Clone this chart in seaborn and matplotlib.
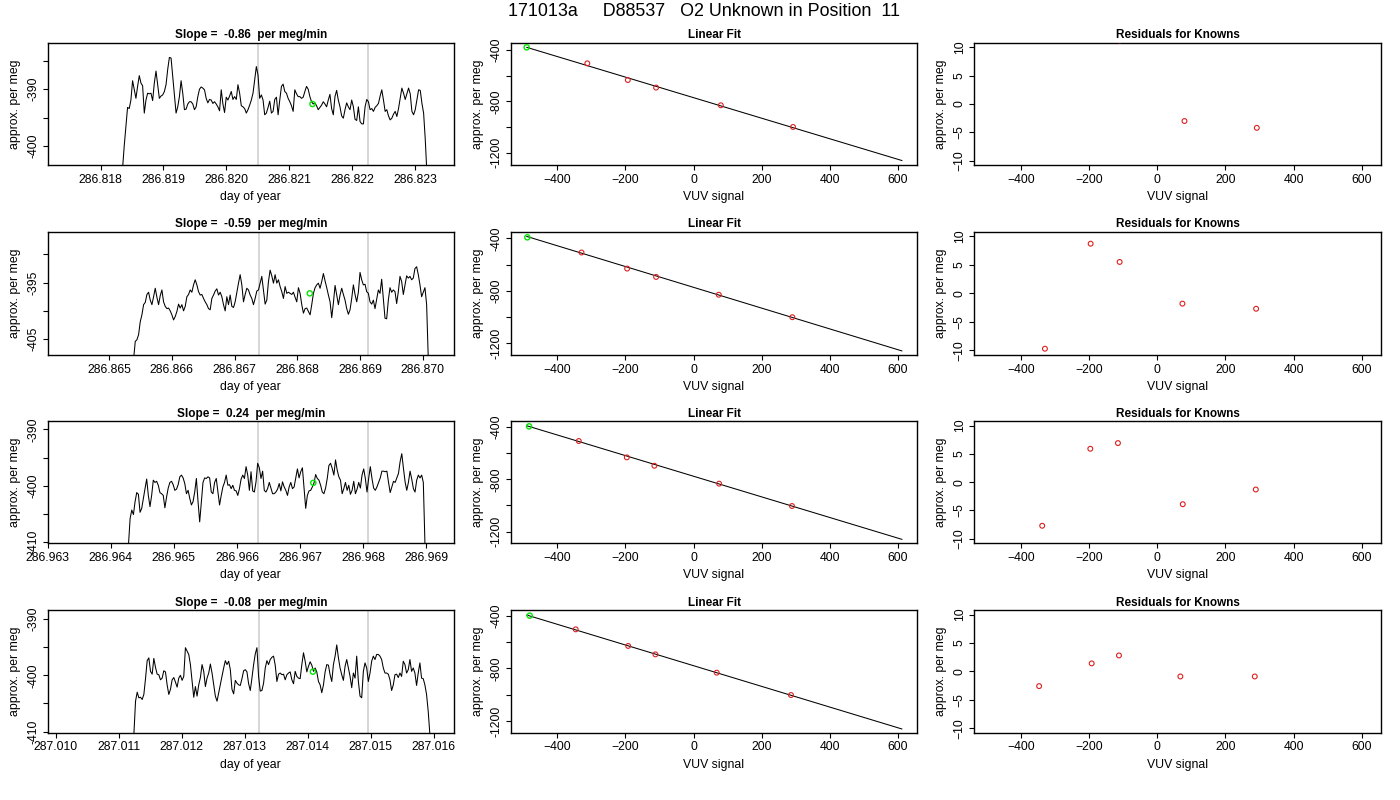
import numpy as np
import pandas as pd
import matplotlib
matplotlib.use("Agg")
import matplotlib.pyplot as plt
import seaborn as sns

# ---- data ----
run_title = "171013a     D88537   O2 Unknown in Position  11"
slopes = ["-0.86", "-0.59", "0.24", "-0.08"]

# time span (day of year) covered by each trace
trace_start = [286.81835, 286.86539, 286.96428, 287.011238]
trace_end = [286.82319, 286.87009, 286.96898, 287.015937]

trace_1 = [-404.0, -400.0, -396.5,
           -393.2, -393.4, -391.9, -388.5, -390.1, -391.6, -389.5, -387.6, -388.9, -389.4,
           -394.2, -391.9, -390.7, -390.8, -390.7, -392.0, -388.9, -386.8, -389.2, -391.6,
           -391.2, -391.0, -390.4, -389.2, -386.5, -384.4, -384.5, -387.8, -391.3, -394.2,
           -393.1, -391.3, -388.5, -390.7, -393.6, -393.5, -392.6, -392.2, -392.2, -392.6,
           -393.6, -393.1, -391.3, -390.0, -389.6, -389.8, -390.1, -391.6, -392.4, -391.8,
           -391.9, -392.5, -392.2, -392.6, -393.1, -393.8, -390.1, -392.6, -394.1, -391.4,
           -391.9, -391.2, -390.4, -391.8, -391.3, -391.8, -389.2, -390.7, -392.9, -393.1,
           -393.4, -394.2, -393.6, -392.8, -391.9, -390.7, -388.4, -386.0, -387.5, -391.6,
           -391.0, -391.9, -394.5, -394.2, -393.2, -392.1, -394.2, -393.9, -391.8, -391.4,
           -394.5, -391.9, -389.5, -389.1, -390.4, -390.7, -391.6, -392.2, -392.9, -393.9,
           -390.1, -390.8, -391.3, -391.3, -391.6, -391.4, -390.4, -389.5, -390.0, -391.3,
           -392.2, -392.6, -392.4, -392.9, -393.6, -393.2, -392.8, -392.2, -392.6, -393.1,
           -391.9, -390.9, -393.4, -394.5, -391.3, -390.2, -391.9, -393.1, -394.7, -395.1,
           -393.6, -392.4, -393.1, -393.6, -391.9, -393.1, -395.3, -395.5, -393.1, -395.7,
           -396.1, -396.1, -393.1, -391.8, -392.2, -393.6, -393.4, -393.9, -393.2, -392.9,
           -392.5, -391.2, -390.1, -391.9, -393.9, -393.6, -394.7, -395.4, -395.1, -394.4,
           -393.9, -394.8, -393.4, -391.6, -389.8, -390.7, -391.8, -390.8, -389.8, -390.8,
           -393.9, -394.5, -393.6, -391.9, -390.1, -390.2, -392.5, -394.2, -398.9, -405.0]

trace_2 = [-408.5, -405.4, -405.1, -404.2, -401.9, -400.7, -398.9, -398.5, -397.1, -396.7,
           -398.1, -398.9, -397.5, -396.0, -397.6, -398.9, -397.3, -396.3, -398.4, -399.2,
           -399.6, -399.5, -400.0, -400.7, -401.6, -401.0, -400.1, -398.8, -399.5, -398.9,
           -400.0, -399.2, -397.5, -397.1, -396.3, -396.7, -395.4, -394.5, -395.4, -396.6,
           -397.2, -397.1, -397.8, -398.4, -398.9, -399.6, -399.8, -397.8, -397.2, -396.5,
           -396.1, -397.2, -396.7, -397.5, -398.9, -400.0, -397.5, -398.9, -397.2, -399.2,
           -399.4, -398.4, -396.7, -395.1, -393.6, -395.4, -398.4, -397.1, -396.0, -396.3,
           -397.2, -397.8, -398.9, -397.8, -396.5, -396.3, -395.1, -393.9, -396.3, -398.8,
           -398.1, -394.8, -392.8, -393.8, -395.1, -393.6, -395.1, -394.5, -395.7, -396.6,
           -397.8, -395.7, -396.9, -396.7, -396.9, -397.1, -396.7, -397.6, -398.4, -395.9,
           -396.9, -398.9, -400.4, -399.6, -399.5, -400.1, -400.7, -398.9, -396.9, -395.9,
           -395.4, -395.1, -396.0, -394.8, -393.4, -394.7, -395.9, -397.2, -398.4, -401.2,
           -398.6, -395.5, -397.2, -398.9, -397.2, -396.0, -397.1, -398.1, -399.6, -400.6,
           -399.8, -397.8, -395.4, -397.1, -398.4, -396.7, -393.2, -394.5, -395.4, -395.3,
           -396.6, -396.9, -398.4, -398.8, -398.1, -399.6, -397.9, -396.3, -396.9, -394.4,
           -397.8, -401.3, -401.4, -398.1, -395.9, -396.7, -396.3, -396.6, -398.7, -396.6,
           -393.9, -394.8, -397.1, -395.4, -393.8, -394.2, -393.9, -394.5, -394.2, -392.5,
           -392.2, -393.6, -395.4, -397.5, -396.7, -395.9, -398.9, -408.5]

trace_3 = [-410.5, -405.8, -404.3, -405.1, -402.8, -401.2, -401.5, -404.7, -404.0, -402.2,
           -400.5, -398.8, -401.7, -403.7, -401.7, -399.0, -399.4, -399.2, -399.9, -401.2,
           -401.4, -401.7, -403.9, -402.0, -400.4, -399.4, -399.2, -399.8, -400.8, -400.6,
           -399.8, -398.4, -398.1, -398.6, -399.6, -401.4, -400.8, -402.2, -403.4, -402.8,
           -401.1, -398.7, -402.8, -406.4, -402.8, -399.4, -398.6, -398.7, -398.4, -398.6,
           -401.1, -401.4, -399.4, -398.7, -401.1, -403.4, -401.7, -400.2, -399.4, -398.1,
           -399.9, -399.8, -400.5, -399.9, -400.8, -400.9, -401.7, -400.5, -398.8, -398.1,
           -398.7, -396.6, -398.1, -400.8, -397.5, -400.9, -401.1, -399.3, -396.0, -396.8,
           -398.7, -397.4, -400.8, -401.1, -400.5, -399.4, -400.4, -401.4, -401.4, -401.1,
           -400.6, -399.6, -400.9, -399.3, -400.2, -400.8, -401.7, -400.2, -399.4, -400.5,
           -400.2, -398.6, -397.0, -398.6, -397.5, -396.8, -400.5, -404.0, -401.7, -400.9,
           -400.8, -400.2, -399.5, -398.0, -398.7, -399.0, -399.9, -401.1, -401.4, -400.4,
           -398.7, -396.4, -396.0, -396.9, -398.1, -395.4, -397.2, -398.4, -399.0, -401.4,
           -400.5, -399.4, -400.8, -399.9, -401.5, -400.8, -399.2, -401.4, -400.6, -399.4,
           -400.4, -398.1, -397.0, -398.7, -401.1, -398.7, -396.6, -398.7, -400.4, -400.8,
           -400.2, -399.4, -398.6, -397.4, -397.4, -397.5, -397.4, -399.4, -401.2, -400.2,
           -399.2, -399.4, -398.6, -397.8, -395.7, -394.3, -396.9, -399.3, -400.8, -399.4,
           -397.4, -398.8, -400.5, -401.1, -399.0, -398.1, -398.6, -398.1, -399.4, -410.5]

trace_4 = [-410.5, -404.6, -403.0, -404.0, -403.9, -404.3, -403.4, -400.6, -397.4, -396.9,
           -399.3, -399.8, -397.0, -398.6, -399.8, -399.9, -400.8, -400.5, -399.2, -399.4,
           -401.7, -403.4, -402.5, -400.8, -400.4, -401.2, -402.1, -400.5, -400.0, -400.9,
           -400.2, -395.1, -395.7, -396.3, -398.1, -401.1, -403.9, -402.0, -403.7, -401.7,
           -400.4, -398.1, -399.3, -402.0, -400.5, -399.6, -398.0, -399.6, -401.7, -403.7,
           -404.6, -403.1, -401.7, -400.2, -398.7, -397.4, -398.1, -397.5, -399.0, -402.5,
           -403.3, -400.9, -401.4, -401.7, -401.8, -400.6, -399.2, -399.0, -399.4, -401.5,
           -402.7, -400.5, -398.1, -396.2, -395.1, -400.2, -402.8, -402.7, -401.4, -398.7,
           -397.4, -398.1, -397.2, -396.8, -396.6, -398.2, -401.1, -399.8, -399.6, -399.9,
           -399.8, -400.8, -399.9, -399.6, -399.4, -400.8, -401.5, -399.3, -400.2, -400.5,
           -400.6, -398.1, -396.0, -397.5, -399.4, -398.4, -397.6, -398.2, -399.3, -398.7,
           -399.4, -401.1, -401.7, -403.1, -401.7, -399.4, -398.1, -398.2, -399.9, -401.1,
           -398.1, -396.6, -394.6, -396.9, -398.7, -399.9, -400.9, -398.4, -397.2, -398.7,
           -400.2, -402.2, -399.6, -400.5, -396.6, -401.1, -403.7, -404.0, -399.3, -397.8,
           -398.7, -401.1, -399.6, -397.5, -396.6, -397.2, -396.3, -396.3, -396.6, -397.2,
           -398.7, -399.6, -399.6, -399.8, -400.8, -402.7, -401.7, -399.9, -399.8, -400.4,
           -399.6, -400.2, -397.5, -398.1, -399.6, -399.0, -397.2, -399.3, -398.7, -399.6,
           -401.8, -399.6, -397.8, -400.5, -400.6, -401.7, -403.4, -406.4, -410.5]

traces = [trace_1, trace_2, trace_3, trace_4]

# gray marker lines and the green unknown point on each trace
gray_lines = [[286.82051, 286.82225], [286.86739, 286.86913],
              [286.96634, 286.96808], [287.01322, 287.01496]]
unk_time = [286.82137, 286.86820, 286.96721, 287.01408]
unk_value = [-392.6, -396.9, -399.47, -399.35]

# linear fit panels
unk_vuv = [-490, -488, -483, -481]
unk_fit = [-379, -392, -395, -400]
known_vuv = [[-312, -193, -110, 80, 292],
             [-329, -195, -110, 74, 290],
             [-337, -196, -115, 75, 289],
             [-346, -192, -112, 68, 286]]
known_fit = [[-504, -634, -693, -831, -1000],
             [-508, -631, -695, -831, -1003],
             [-507, -632, -696, -833, -1004],
             [-504, -630, -694, -833, -1003]]
line_vuv = [-490, 612]
line_fit = [[-379, -1262], [-385, -1261], [-390, -1259], [-395, -1261]]

# residuals for knowns
resid_vuv = known_vuv
resid = [[13.5, 12.5, 11.2, -3.0, -4.2],
         [-9.7, 8.7, 5.5, -1.8, -2.7],
         [-7.7, 5.9, 6.9, -3.9, -1.3],
         [-2.6, 1.4, 2.8, -0.9, -0.9]]

# axis settings (style)
time_lims = [(286.81716, 286.82362), (286.86402, 286.87050),
             (286.96300, 286.96944), (287.00987, 287.01632)]
time_ticks = [[286.818, 286.819, 286.820, 286.821, 286.822, 286.823],
              [286.865, 286.866, 286.867, 286.868, 286.869, 286.870],
              [286.963, 286.964, 286.965, 286.966, 286.967, 286.968, 286.969],
              [287.010, 287.011, 287.012, 287.013, 287.014, 287.015, 287.016]]
trace_ylims = [(-403.4, -381.8), (-407.8, -386.0), (-410.2, -388.5), (-410.2, -388.4)]
trace_yticks = [[-385, -390, -395, -400], [-390, -395, -400, -405],
                [-390, -395, -400, -405, -410], [-390, -395, -400, -405, -410]]
trace_ylabels = [["", "-390", "", "-400"], ["", "-395", "", "-405"],
                 ["-390", "", "-400", "", "-410"], ["-390", "", "-400", "", "-410"]]
fit_ylims = [(-1299, -343), (-1292, -349), (-1289, -354), (-1289, -357)]

# ---- figure ----
sns.set_theme(style="ticks")
plt.rcParams["font.family"] = ["Liberation Sans", "DejaVu Sans"]
plt.rcParams["axes.edgecolor"] = "black"
plt.rcParams["axes.linewidth"] = 1.0
plt.rcParams["xtick.color"] = "black"
plt.rcParams["ytick.color"] = "black"
plt.rcParams["text.color"] = "black"
plt.rcParams["axes.labelcolor"] = "black"
plt.rcParams["axes.titlecolor"] = "black"

fig = plt.figure(figsize=(14, 8), dpi=100)
W, H = 1400.0, 800.0
col_px = [(47.7, 454.0), (511.0, 917.0), (974.3, 1381.0)]
row_px = [(42.7, 165.3), (231.7, 355.0), (421.0, 543.3), (610.0, 732.7)]

fs = 8.8
red = "#dd2020"
green = "#00e600"


def style_axis(ax, title):
    ax.set_title(title, fontsize=8.5, fontweight="bold", pad=3.2)
    ax.tick_params(axis="both", direction="out", length=3.6, width=0.8,
                   labelsize=fs, pad=2.6, labelcolor="black")
    ax.tick_params(axis="y", labelrotation=90)
    for lab in ax.get_yticklabels():
        lab.set_va("center")
    for sp in ax.spines.values():
        sp.set_visible(True)
        sp.set_color("black")
    ax.set_ylabel("approx. per meg", fontsize=fs)
    ax.yaxis.label.set_va("center")


for r in range(4):
    top, bot = row_px[r]
    axes = []
    for c in range(3):
        left, right = col_px[c]
        axes.append(fig.add_axes([left / W, 1 - bot / H, (right - left) / W, (bot - top) / H]))
    ax1, ax2, ax3 = axes

    # trace vs time
    df = pd.DataFrame({"time": np.linspace(trace_start[r], trace_end[r], len(traces[r])),
                       "value": traces[r]})
    for g in gray_lines[r]:
        ax1.axvline(g, color="#cfcfcf", linewidth=1.2, zorder=0)
    sns.lineplot(data=df, x="time", y="value", ax=ax1, color="black",
                 linewidth=0.75, sort=False, estimator=None)
    sns.scatterplot(x=[unk_time[r]], y=[unk_value[r]], ax=ax1, marker="o",
                    facecolor="none", edgecolor=green, s=14, linewidth=1.0, zorder=5)
    ax1.set_xlim(time_lims[r])
    ax1.set_ylim(trace_ylims[r])
    ax1.set_xticks(time_ticks[r])
    ax1.set_xticklabels(["%.3f" % t for t in time_ticks[r]])
    ax1.set_yticks(trace_yticks[r])
    ax1.set_yticklabels(trace_ylabels[r])
    style_axis(ax1, "Slope =  %s  per meg/min" % slopes[r])
    ax1.set_xlabel("day of year", fontsize=fs)

    # linear fit
    sns.lineplot(x=line_vuv, y=line_fit[r], ax=ax2, color="black", linewidth=0.75,
                 sort=False, estimator=None)
    sns.scatterplot(x=known_vuv[r], y=known_fit[r], ax=ax2, marker="o",
                    facecolor="none", edgecolor=red, s=12, linewidth=0.8, zorder=5)
    sns.scatterplot(x=[unk_vuv[r]], y=[unk_fit[r]], ax=ax2, marker="o",
                    facecolor="none", edgecolor=green, s=14, linewidth=1.0, zorder=5)
    ax2.set_xlim(-536, 656)
    ax2.set_ylim(fit_ylims[r])
    ax2.set_xticks([-400, -200, 0, 200, 400, 600])
    ax2.set_yticks([-400, -600, -800, -1000, -1200])
    ax2.set_yticklabels(["-400", "", "-800", "", "-1200"])
    style_axis(ax2, "Linear Fit")
    ax2.set_xlabel("VUV signal", fontsize=fs)

    # residuals
    sns.scatterplot(x=resid_vuv[r], y=resid[r], ax=ax3, marker="o",
                    facecolor="none", edgecolor=red, s=12, linewidth=0.8, zorder=5)
    ax3.set_xlim(-536, 656)
    ax3.set_ylim(-10.8, 10.8)
    ax3.set_xticks([-400, -200, 0, 200, 400, 600])
    ax3.set_yticks([-10, -5, 0, 5, 10])
    style_axis(ax3, "Residuals for Knowns")
    ax3.set_xlabel("VUV signal", fontsize=fs)

    for ax in axes:
        h = bot - top
        w = col_px[0][1] - col_px[0][0]
        ax.xaxis.label.set_va("center")
        ax.xaxis.set_label_coords(0.5, -32.0 / h)
        ax.yaxis.set_label_coords(-33.0 / w, 0.5)

fig.text(508 / W, 1 - 12 / H, run_title, fontsize=12.9, ha="left", va="center")

fig.savefig("out.png", dpi=100)
